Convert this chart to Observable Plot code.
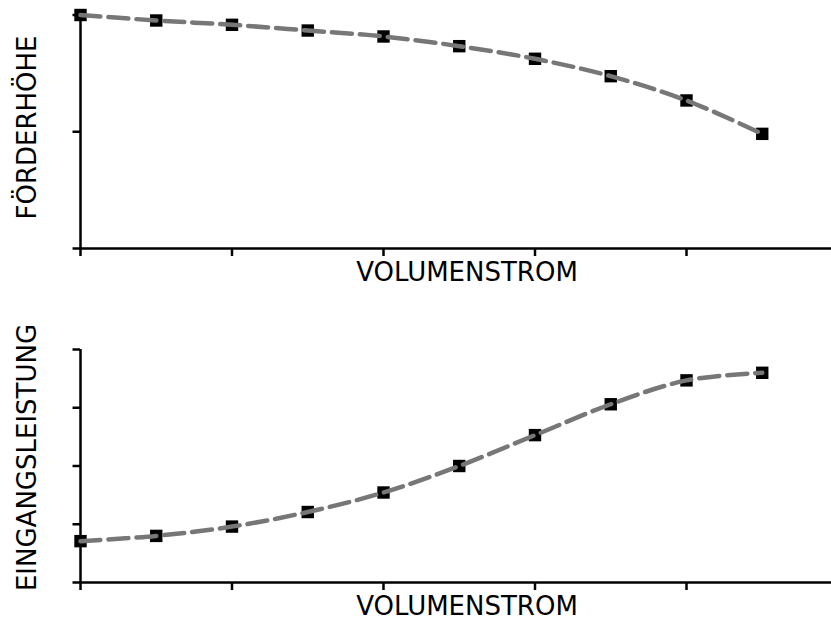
<!DOCTYPE html>
<html>
<head>
<meta charset="utf-8">
<script src="https://cdn.jsdelivr.net/npm/d3@7"></script>
<script src="https://cdn.jsdelivr.net/npm/@observablehq/plot@0.6"></script>
<style>
  body { margin: 0; background: #fff; }
  #chart { width: 831px; height: 619px; overflow: hidden; }
  #chart svg { display: block; }
</style>
</head>
<body>
<div id="chart"></div>
<script>
// Pump characteristic curves (relative units)
const flow = [0, 0.5, 1, 1.5, 2, 2.5, 3, 3.5, 4, 4.5];
const head = [2.0, 1.953, 1.916, 1.867, 1.816, 1.733, 1.625, 1.476, 1.268, 0.982];
const power = [0.71, 0.80, 0.96, 1.21, 1.545, 2.0, 2.53, 3.06, 3.47, 3.60];

const flowTicks = [0, 1, 2, 3, 4];
const headTicks = [0, 1, 2];
const powerTicks = [0, 1, 2, 3, 4];

const xLabel = "VOLUMENSTROM";
const headLabel = "FÖRDERHÖHE";
const powerLabel = "EINGANGSLEISTUNG";

const W = 853;           // wider than the page: the flow axis runs off the right edge
const marginLeft = 80;
const tickPx = 151.5;    // pixels per flow unit
const xMax = (W - marginLeft) / tickPx;

function panel({values, yTicks, yLabel, height, marginTop, marginBottom, unitPx}) {
  const data = flow.map((q, i) => ({q, v: values[i]}));
  const yMax = (height - marginTop - marginBottom) / unitPx;
  const axisStyle = {
    tickFormat: () => "",
    strokeWidth: 2.5,
    labelAnchor: "center",
    labelArrow: "none",
    fontSize: 26
  };
  return Plot.plot({
    width: W,
    height,
    marginLeft,
    marginRight: 0,
    marginTop,
    marginBottom,
    style: {fontFamily: "DejaVu Sans", background: "white", color: "black", maxWidth: "none", overflow: "visible"},
    x: {domain: [0, xMax]},
    y: {domain: [0, yMax]},
    marks: [
      Plot.axisX({...axisStyle, ticks: flowTicks, tickSize: 8, label: xLabel, labelOffset: 32}),
      Plot.axisY({...axisStyle, ticks: yTicks, tickSize: 7.5, label: yLabel, labelOffset: 63}),
      Plot.ruleX([0], {y1: d3.min(yTicks), y2: d3.max(yTicks), stroke: "black", strokeWidth: 2.5}),
      Plot.ruleY([0], {stroke: "black", strokeWidth: 2.5}),
      Plot.dot(data, {x: "q", y: "v", symbol: "square", r: 7, fill: "black", stroke: "none"}),
      Plot.line(data, {
        x: "q", y: "v",
        curve: "catmull-rom",
        stroke: "#777",
        strokeWidth: 4.5,
        strokeDasharray: "20,8"
      })
    ]
  });
}

const chart = document.getElementById("chart");
chart.append(panel({
  values: head, yTicks: headTicks, yLabel: headLabel,
  height: 300, marginTop: 6, marginBottom: 52, unitPx: 116.75
}));
chart.append(panel({
  values: power, yTicks: powerTicks, yLabel: powerLabel,
  height: 319, marginTop: 32, marginBottom: 37, unitPx: 58.25
}));
</script>
</body>
</html>
